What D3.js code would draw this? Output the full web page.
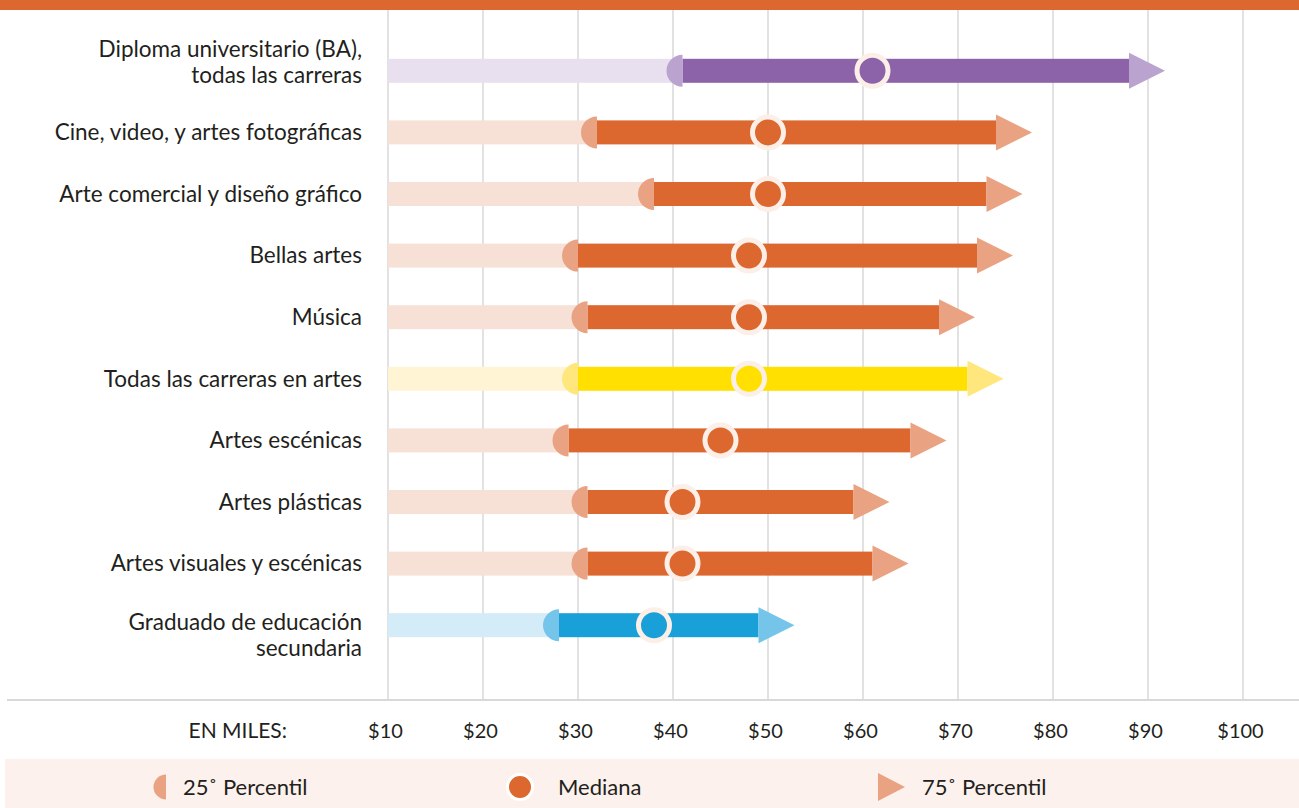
<!DOCTYPE html>
<html><head><meta charset="utf-8">
<script src="https://cdn.jsdelivr.net/npm/d3@7"></script>
<style>
html,body{margin:0;padding:0;background:#fff;}
svg{display:block;font-family:Lato,"Noto Sans",sans-serif;}
</style></head>
<body><svg id="chart" width="1299" height="808"></svg>
<script>
// ---- data ----
const categories = [
  ["Diploma universitario (BA),", "todas las carreras"],
  ["Cine, video, y artes fotográficas"],
  ["Arte comercial y diseño gráfico"],
  ["Bellas artes"],
  ["Música"],
  ["Todas las carreras en artes"],
  ["Artes escénicas"],
  ["Artes plásticas"],
  ["Artes visuales y escénicas"],
  ["Graduado de educación", "secundaria"]
];
const groups = ["ba","arte","arte","arte","arte","todas","arte","arte","arte","hs"];
const p25    = [41, 32, 38, 30, 31, 30, 29, 31, 31, 28];
const median = [61, 50, 50, 48, 48, 48, 45, 41, 41, 38];
const p75    = [88, 74, 73, 72, 68, 71, 65, 59, 61, 49];
const tickValues = [10, 20, 30, 40, 50, 60, 70, 80, 90, 100];
const tickLabels = ["$10","$20","$30","$40","$50","$60","$70","$80","$90","$100"];
const axisTitle = "EN MILES:";
const legendLabels = ["25˚ Percentil", "Mediana", "75˚ Percentil"];

// ---- styles ----
const palette = {
  ba:    {dark:"#8c63a9", light:"#e8e0ef", accent:"#bba3cf"},
  arte:  {dark:"#dc6830", light:"#f7e1d7", accent:"#e9a282"},
  todas: {dark:"#ffe000", light:"#fff5d5", accent:"#ffe77e"},
  hs:    {dark:"#1aa0d8", light:"#d4ecf7", accent:"#75c4e9"}
};
const ringColor = "#fbefe8";
const textColor = "#231f20";

const svg = d3.select("#chart");
const W = 1299, H = 808;

const x = d3.scaleLinear().domain([10, 100]).range([388, 1243]);
const y = d3.scaleBand().domain(d3.range(categories.length)).range([40, 656]);
const cy = i => y(i) + y.bandwidth() / 2;
const nRows = categories.length;

// top band
svg.append("rect").attr("x", 0).attr("y", 0).attr("width", W).attr("height", 10).attr("fill", "#dc6830");

// gridlines
svg.append("g").selectAll("line").data(tickValues).join("line")
  .attr("x1", d => x(d)).attr("x2", d => x(d))
  .attr("y1", 10).attr("y2", 699)
  .attr("stroke", "#e2e2e2").attr("stroke-width", 2);

// baseline
svg.append("line").attr("x1", 7).attr("x2", W).attr("y1", 700).attr("y2", 700)
  .attr("stroke", "#d8d8d8").attr("stroke-width", 2);

// axis (labels only)
const axis = d3.axisBottom(x).tickValues(tickValues)
  .tickFormat((d, i) => tickLabels[i]).tickSize(0).tickPadding(0);
const ga = svg.append("g").attr("transform", "translate(0,731)").call(axis);
ga.select(".domain").remove();
ga.selectAll("text").attr("font-size", 20).attr("fill", textColor)
  .attr("font-family", "Lato, sans-serif").attr("dy", "0.35em").attr("dx", -3);
svg.append("text").attr("x", 287).attr("y", 731).attr("dy", "0.35em")
  .attr("text-anchor", "end").attr("font-size", 21).attr("fill", textColor).text(axisTitle);

// category labels (multi-line labels stay clear of the chart edges)
const lineH = 26;
const lab = svg.append("g").selectAll("text").data(categories).join("text")
  .attr("text-anchor", "end").attr("font-size", 22.5).attr("fill", textColor)
  .attr("transform", (d, i) => `translate(362,${cy(i)})`);
lab.selectAll("tspan").data((d, i) => d.map((t, j) => ({t, j, n: d.length, i}))).join("tspan")
  .attr("x", 0)
  .attr("y", d => {
    if (d.n === 1) return 0;
    if (d.i === 0) return (d.j - (d.n - 1)) * lineH + 4;
    if (d.i === nRows - 1) return d.j * lineH - 3;
    return (d.j - (d.n - 1) / 2) * lineH;
  })
  .attr("dy", "0.35em")
  .text(d => d.t);

// rows
const barH = 24, halfR = 16, triL = 36, triH = 18, medR = 15.5;
const rows = svg.append("g").selectAll("g").data(d3.range(nRows)).join("g")
  .attr("transform", i => `translate(0,${cy(i)})`);

rows.append("rect") // light bar
  .attr("x", x(10)).attr("y", -barH / 2)
  .attr("width", i => x(p25[i]) - x(10)).attr("height", barH)
  .attr("fill", i => palette[groups[i]].light);
rows.append("rect") // dark bar
  .attr("x", i => x(p25[i])).attr("y", -barH / 2)
  .attr("width", i => x(p75[i]) - x(p25[i])).attr("height", barH)
  .attr("fill", i => palette[groups[i]].dark);
rows.append("path") // 25th half circle
  .attr("d", i => {
    const px = x(p25[i]);
    return `M${px},${-halfR} A${halfR},${halfR} 0 0 0 ${px},${halfR} Z`;
  })
  .attr("fill", i => palette[groups[i]].accent);
rows.append("path") // 75th arrow
  .attr("d", i => {
    const px = x(p75[i]);
    return `M${px},${-triH} L${px + triL},0 L${px},${triH} Z`;
  })
  .attr("fill", i => palette[groups[i]].accent);
rows.append("circle") // median
  .attr("cx", i => x(median[i])).attr("cy", 0).attr("r", medR)
  .attr("fill", i => palette[groups[i]].dark)
  .attr("stroke", ringColor).attr("stroke-width", 5);

// legend
const lg = svg.append("g");
lg.append("rect").attr("x", 5).attr("y", 759).attr("width", W - 5).attr("height", H - 759).attr("fill", "#fcf1ec");
const ly = 787;
lg.append("path").attr("d", `M166,${ly - 12.5} A12.5,12.5 0 0 0 166,${ly + 12.5} Z`).attr("fill", palette.arte.accent);
lg.append("circle").attr("cx", 520).attr("cy", ly).attr("r", 12.5)
  .attr("fill", palette.arte.dark).attr("stroke", "#ffffff").attr("stroke-width", 3);
lg.append("path").attr("d", `M878,${ly - 14} L905,${ly} L878,${ly + 14} Z`).attr("fill", palette.arte.accent);
lg.selectAll("text").data(legendLabels).join("text")
  .attr("x", (d, i) => [183, 558, 922][i]).attr("y", ly).attr("dy", "0.35em")
  .attr("font-size", 22).attr("fill", textColor).text(d => d);
</script>
</body></html>
